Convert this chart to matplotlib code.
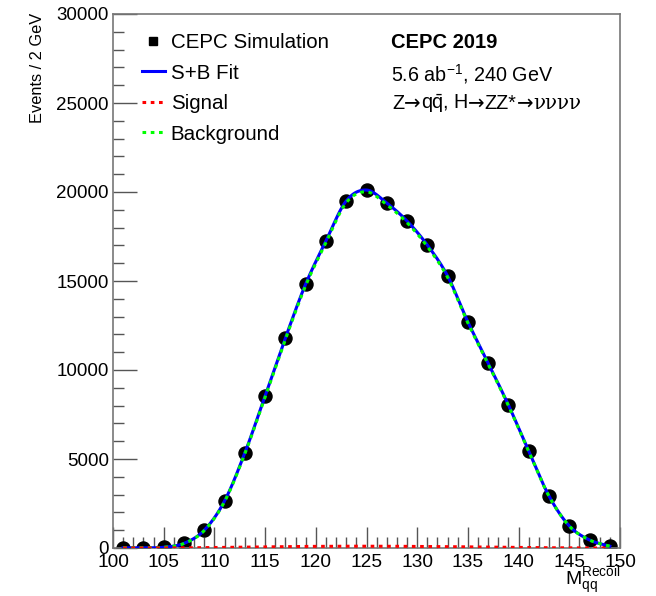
import numpy as np
import matplotlib
matplotlib.use("Agg")
import matplotlib.pyplot as plt
from matplotlib.lines import Line2D

plt.rcParams['font.family'] = ['Liberation Sans', 'DejaVu Sans']
plt.rcParams['mathtext.fontset'] = 'custom'
plt.rcParams['mathtext.rm'] = 'Liberation Sans'
plt.rcParams['mathtext.it'] = 'Liberation Sans'

# data (bin centers, 2 GeV bins)
mass = [101, 103, 105, 107, 109, 111, 113, 115, 117, 119, 121, 123, 125,
        127, 129, 131, 133, 135, 137, 139, 141, 143, 145, 147, 149]
events = [10, 10, 40, 260, 1000, 2640, 5340, 8540, 11800, 14830, 17250, 19500, 20110,
          19380, 18370, 17020, 15280, 12700, 10390, 8030, 5450, 2920, 1240, 450, 100]
signal = [0, 0, 2, 8, 20, 35, 50, 65, 78, 88, 95, 100, 100,
          98, 92, 85, 75, 62, 50, 38, 25, 14, 6, 2, 0]


def smooth(x, y, n=600):
    x = np.asarray(x, float)
    y = np.asarray(y, float)
    xs = np.linspace(x[0], x[-1], n)
    m = np.gradient(y, x)
    out = np.empty_like(xs)
    for k, xv in enumerate(xs):
        i = min(np.searchsorted(x, xv, side='right') - 1, len(x) - 2)
        h = x[i + 1] - x[i]
        t = (xv - x[i]) / h
        h00 = 2 * t**3 - 3 * t**2 + 1
        h10 = t**3 - 2 * t**2 + t
        h01 = -2 * t**3 + 3 * t**2
        h11 = t**3 - t**2
        out[k] = h00 * y[i] + h10 * h * m[i] + h01 * y[i + 1] + h11 * h * m[i + 1]
    return xs, np.clip(out, 0, None)


W, H = 656, 596
fig = plt.figure(figsize=(W / 100, H / 100), dpi=100)
ax = fig.add_axes([113 / W, 1 - 548 / H, (620 - 113) / W, (548 - 14) / H])

xs, tot = smooth(mass, events)
xs2, sig = smooth(mass, signal)
bkg = tot - sig

ax.plot(xs, tot, color='#0000ff', lw=2.2, zorder=3)
ax.plot(xs, bkg, color='#00ff00', lw=2.2, ls=(0, (1.2, 1.5)), zorder=4)
ax.plot(xs2, sig, color='#ff0000', lw=2.2, ls=(0, (1.2, 1.5)), zorder=4)
ax.plot(mass, events, 'o', color='black', ms=9.4, zorder=2)

ax.set_xlim(100, 150)
ax.set_ylim(0, 30000)
ax.set_xticks(np.arange(100, 151, 5))
ax.set_xticks(np.arange(100, 151, 1), minor=True)
ax.set_yticks(np.arange(0, 30001, 5000))
ax.set_yticks(np.arange(0, 30001, 1000), minor=True)
ax.tick_params(axis='both', which='both', direction='in', top=False, right=False,
               color='#555555', width=1)
ax.tick_params(axis='x', which='major', length=15, labelsize=13.8, pad=4)
ax.tick_params(axis='x', which='minor', length=8)
ax.tick_params(axis='y', which='major', length=17, labelsize=13.5, pad=3)
ax.tick_params(axis='y', which='minor', length=8)
for s in ax.spines.values():
    s.set_color('#777777')
    s.set_linewidth(1.2)

fig.text(37 / W, 1 - 13 / H, 'Events / 2 GeV', rotation=90, ha='center', va='top',
         fontsize=11.8)
fig.text(620 / W, 1 - 585 / H, r'M$_{\mathregular{qq}}^{\mathregular{Recoil}}$',
         ha='right', va='baseline', fontsize=14)

handles = [
    Line2D([], [], marker='s', color='black', ls='none', ms=5.5),
    Line2D([], [], color='#0000ff', lw=2.2),
    Line2D([], [], color='#ff0000', lw=2.2, ls=(0, (1.2, 1.5))),
    Line2D([], [], color='#00ff00', lw=2.2, ls=(0, (1.2, 1.5))),
]
labels = ['CEPC Simulation', 'S+B Fit', 'Signal', 'Background']
leg = ax.legend(handles, labels, loc='upper left', bbox_to_anchor=(142 / W, 1 - 33 / H),
                bbox_transform=fig.transFigure, frameon=False, fontsize=14.8,
                handlelength=1.1, handletextpad=0.3, labelspacing=0.56,
                borderaxespad=0, borderpad=0)

fig.text(391 / W, 1 - 43 / H, 'CEPC 2019', fontweight='bold', fontsize=14.5,
         va='center', ha='left')
fig.text(391 / W, 1 - 74 / H, r'5.6 ab$^{\mathregular{-1}}$, 240 GeV', fontsize=14.2,
         va='center', ha='left')

# decay chain line, assembled from pieces on a common baseline
pieces = [('Z', 'Liberation Sans'), ('\u2192', 'DejaVu Sans'),
          (r'q$\mathregular{\bar{q}}$, H', 'Liberation Sans'), ('\u2192', 'DejaVu Sans'),
          ('ZZ*', 'Liberation Sans'), ('\u2192', 'DejaVu Sans'),
          ('\u03bd\u03bd\u03bd\u03bd', 'DejaVu Serif')]
renderer = fig.canvas.get_renderer()
xpix = 392
for txt, fam in pieces:
    t = fig.text(xpix / W, 1 - 109 / H, txt, fontsize=14.2, family=fam,
                 va='baseline', ha='left')
    bb = t.get_window_extent(renderer)
    xpix = bb.x1

fig.savefig('out.png', dpi=100)
